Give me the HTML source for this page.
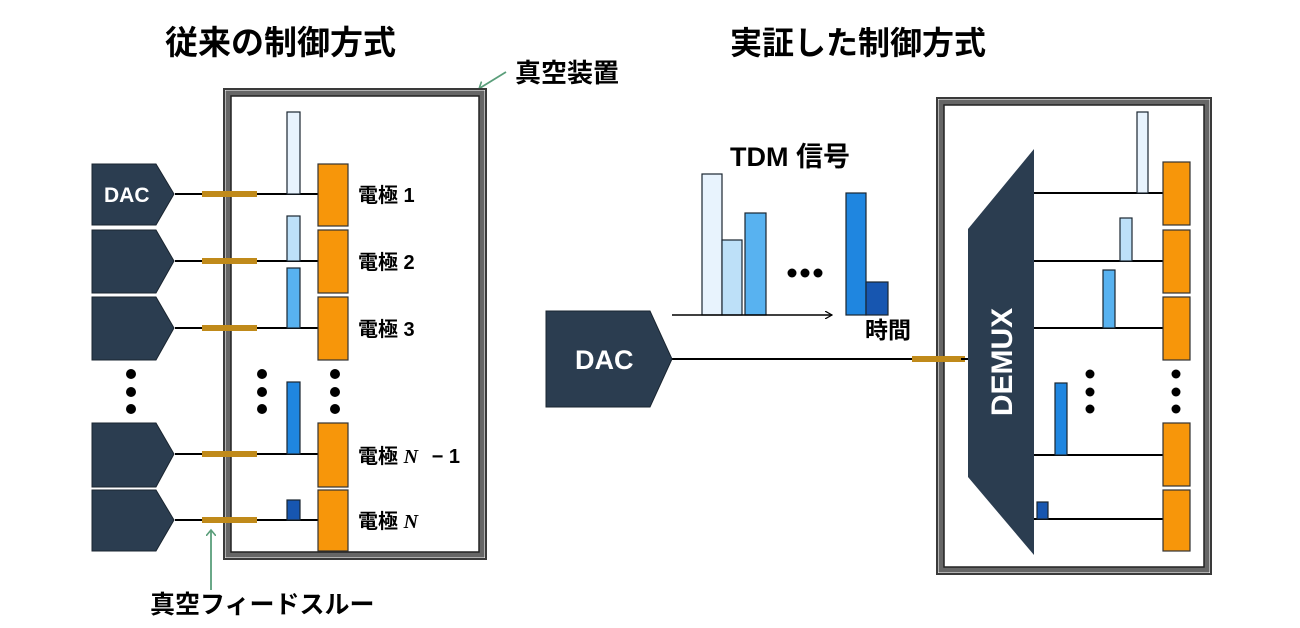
<!DOCTYPE html>
<html><head><meta charset="utf-8"><style>
html,body{margin:0;padding:0;background:#fff}
svg{display:block}
text{font-family:"Liberation Sans","Noto Sans CJK JP",sans-serif;font-weight:bold}
</style></head><body>
<svg width="1300" height="628" viewBox="0 0 1300 628" xmlns="http://www.w3.org/2000/svg">
<defs>
<marker id="ga" markerWidth="10" markerHeight="10" refX="5" refY="5" orient="auto" markerUnits="userSpaceOnUse">
<path d="M0,0 L6,5 L0,10" fill="none" stroke="#5a9e7a" stroke-width="1.6"/></marker>
<marker id="ka" markerWidth="8" markerHeight="8" refX="7" refY="4" orient="auto" markerUnits="userSpaceOnUse">
<path d="M0,0 L7,4 L0,8" fill="none" stroke="#000" stroke-width="1.2"/></marker>
</defs>
<text x="165" y="54" font-size="33">従来の制御方式</text>
<text x="730" y="54" font-size="32">実証した制御方式</text>
<text x="515" y="82" font-size="26">真空装置</text>
<line x1="506" y1="72" x2="480" y2="88" stroke="#5a9e7a" stroke-width="1.8" marker-end="url(#ga)"/>

<rect x="224" y="89" width="262" height="470" fill="#fff" stroke="#3a3a3a" stroke-width="2"/>
<rect x="228" y="93" width="254" height="462" fill="none" stroke="#666" stroke-width="5"/>
<rect x="231" y="96" width="248" height="456" fill="#fff" stroke="#222" stroke-width="1.5"/>

<g stroke="#000" stroke-width="2">
<line x1="175" y1="194" x2="320" y2="194"/>
<line x1="175" y1="261" x2="320" y2="261"/>
<line x1="175" y1="328" x2="320" y2="328"/>
<line x1="175" y1="454" x2="320" y2="454"/>
<line x1="175" y1="520" x2="320" y2="520"/>
</g>
<g fill="#c08a1a">
<rect x="202" y="191" width="55" height="6"/>
<rect x="202" y="258" width="55" height="6"/>
<rect x="202" y="325" width="55" height="6"/>
<rect x="202" y="451" width="55" height="6"/>
<rect x="202" y="517" width="55" height="6"/>
</g>
<g fill="#2b3d50" stroke="#1a2530" stroke-width="1">
<path d="M92,164 H156 L174,194 L156,225 H92 Z"/>
<path d="M92,230 H156 L174,261 L156,293 H92 Z"/>
<path d="M92,297 H156 L174,328 L156,360 H92 Z"/>
<path d="M92,423 H156 L174,454 L156,487 H92 Z"/>
<path d="M92,490 H156 L174,520 L156,551 H92 Z"/>
</g>
<text x="104" y="202" font-size="21" fill="#fff">DAC</text>
<g stroke="#1a2530" stroke-width="1.2">
<rect x="287" y="112" width="13" height="82" fill="#e8f3fd"/>
<rect x="287" y="216" width="13" height="45" fill="#bde0f8"/>
<rect x="287" y="268" width="13" height="60" fill="#58b2f0"/>
<rect x="287" y="382" width="13" height="72" fill="#1f86e0"/>
<rect x="287" y="500" width="13" height="20" fill="#1756b0"/>
</g>
<g fill="#f7960a" stroke="#333" stroke-width="1.2">
<rect x="318" y="164" width="30" height="62"/>
<rect x="318" y="230" width="30" height="63"/>
<rect x="318" y="297" width="30" height="63"/>
<rect x="318" y="423" width="30" height="64"/>
<rect x="318" y="490" width="30" height="61"/>
</g>
<g font-size="20">
<text x="358" y="202">電極 1</text>
<text x="358" y="269">電極 2</text>
<text x="358" y="336">電極 3</text>
<text x="358" y="463">電極 <tspan font-family="Liberation Serif" font-style="italic">N</tspan> <tspan dx="8">− 1</tspan></text>
<text x="358" y="528">電極 <tspan font-family="Liberation Serif" font-style="italic">N</tspan></text>
</g>
<g fill="#000">
<circle cx="131" cy="374" r="5"/><circle cx="131" cy="392" r="5"/><circle cx="131" cy="409" r="5"/>
<circle cx="262" cy="374" r="5"/><circle cx="262" cy="392" r="5"/><circle cx="262" cy="409" r="5"/>
<circle cx="335" cy="374" r="5"/><circle cx="335" cy="392" r="5"/><circle cx="335" cy="409" r="5"/>
</g>
<line x1="211" y1="590" x2="211" y2="531" stroke="#5a9e7a" stroke-width="1.8" marker-end="url(#ga)"/>
<text x="150" y="613" font-size="25">真空フィードスルー</text>

<text x="730" y="166" font-size="27">TDM 信号</text>
<g stroke="#1a2530" stroke-width="1.2">
<rect x="702" y="174" width="20" height="141" fill="#e8f3fd"/>
<rect x="722" y="240" width="20" height="75" fill="#bde0f8"/>
<rect x="745" y="213" width="21" height="102" fill="#58b2f0"/>
<rect x="846" y="193" width="20" height="122" fill="#1f86e0"/>
<rect x="866" y="282" width="22" height="33" fill="#1756b0"/>
</g>
<line x1="672" y1="315" x2="832" y2="315" stroke="#000" stroke-width="1.5" marker-end="url(#ka)"/>
<g fill="#000"><circle cx="792" cy="273" r="4.5"/><circle cx="805" cy="273" r="4.5"/><circle cx="818" cy="273" r="4.5"/></g>
<text x="865" y="338" font-size="23">時間</text>

<line x1="672" y1="359" x2="968" y2="359" stroke="#000" stroke-width="2"/>
<path d="M546,311 H650 L672,359 L650,407 H546 Z" fill="#2b3d50" stroke="#1a2530"/>
<text x="575" y="369" font-size="27" fill="#fff">DAC</text>

<rect x="937" y="98" width="274" height="476" fill="#fff" stroke="#3a3a3a" stroke-width="2"/>
<rect x="941" y="102" width="266" height="468" fill="none" stroke="#666" stroke-width="5"/>
<rect x="944" y="105" width="260" height="462" fill="#fff" stroke="#222" stroke-width="1.5"/>
<rect x="912" y="356" width="53" height="6" fill="#c08a1a"/>
<line x1="961" y1="359" x2="970" y2="359" stroke="#000" stroke-width="2"/>

<path d="M968,229 L1034,149 L1034,555 L968,477 Z" fill="#2b3d50"/>
<text transform="translate(1012,362) rotate(-90)" font-size="30" fill="#fff" text-anchor="middle">DEMUX</text>
<g stroke="#000" stroke-width="2">
<line x1="1034" y1="193" x2="1164" y2="193"/>
<line x1="1034" y1="261" x2="1164" y2="261"/>
<line x1="1034" y1="328" x2="1164" y2="328"/>
<line x1="1034" y1="455" x2="1164" y2="455"/>
<line x1="1034" y1="519" x2="1164" y2="519"/>
</g>
<g stroke="#1a2530" stroke-width="1.2">
<rect x="1137" y="112" width="11" height="81" fill="#e8f3fd"/>
<rect x="1120" y="218" width="12" height="43" fill="#bde0f8"/>
<rect x="1103" y="270" width="12" height="58" fill="#58b2f0"/>
<rect x="1055" y="383" width="12" height="72" fill="#1f86e0"/>
<rect x="1037" y="502" width="11" height="17" fill="#1756b0"/>
</g>
<g fill="#f7960a" stroke="#333" stroke-width="1.2">
<rect x="1163" y="162" width="27" height="63"/>
<rect x="1163" y="230" width="27" height="63"/>
<rect x="1163" y="297" width="27" height="63"/>
<rect x="1163" y="423" width="27" height="63"/>
<rect x="1163" y="490" width="27" height="61"/>
</g>
<g fill="#000">
<circle cx="1090" cy="374" r="4.5"/><circle cx="1090" cy="392" r="4.5"/><circle cx="1090" cy="409" r="4.5"/>
<circle cx="1176" cy="374" r="4.5"/><circle cx="1176" cy="392" r="4.5"/><circle cx="1176" cy="409" r="4.5"/>
</g>
</svg>
</body></html>
